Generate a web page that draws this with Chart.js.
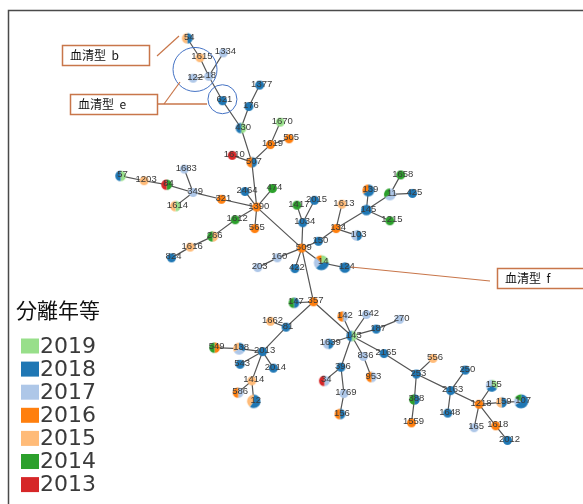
<!DOCTYPE html>
<html><head><meta charset="utf-8">
<script src="https://cdn.jsdelivr.net/npm/chart.js@4.4.1/dist/chart.umd.min.js"></script>
<style>html,body{margin:0;padding:0;background:#fff;}canvas{display:block;}</style>
</head><body>
<canvas id="c" width="583" height="504"></canvas>
<script>
// ---- legend / colour categories
const years = ['2019','2018','2017','2016','2015','2014','2013'];
const yearColors = ['#98df8a','#1f77b4','#aec7e8','#ff7f0e','#ffbb78','#2ca02c','#d62728'];
const legendTitle = '分離年等';

// ---- nodes (sequence types) and their layout coordinates
const nodeIds = ['54','1615','1334','18','122','621','1377','176','430','1670','1619','505','1610','507','1390',
 '321','349','1683','1614','84','1203','57','2464','474','565','1612','266','1616','824','509',
 '1034','1417','2015','150','134','1613','103','145','139','1215','11','1658','425','160','203',
 '422','14','124','357','147','81','1662','2013','138','549','543','2014','1414','586','12',
 '143','142','1642','187','270','1639','396','34','1769','156','836','953','2165','253','556',
 '388','1559','2163','250','1648','1218','155','159','107','165','1618','2012'];
const nodeX = [185,198,222,207,191,221,259,248,240,280,270,289,231,251,256,
 220,191,182,173,164,141,117,244,272,254,234,211,188,169,302,
 303,297,315,319,337,343,358,368,370,392,392,403,415,277,257,
 295,322,346,314,294,286,270,262,238,213,239,273,251,237,253,
 353,344,368,378,402,329,342,325,345,341,365,373,386,419,436,
 417,414,454,469,451,483,496,506,526,478,500,512];
const nodeY = [33,53,48,72,74,97,81,103,125,119,142,136,153,160,206,
 198,191,167,205,183,179,174,190,187,228,219,236,247,258,248,
 222,204,199,241,228,203,235,209,189,220,193,173,192,258,268,
 269,263,268,303,304,329,323,354,351,350,367,371,384,396,405,
 338,318,316,331,321,346,370,384,397,418,359,380,356,377,361,
 403,427,394,373,417,408,389,406,405,432,430,445];

// ---- isolates per year (one entry per isolate, node id)
const iso2019 = ['430','1670','1614','57','14','14','143','155'];
const iso2018 = ['54','621','1377','176','430','507','57','2464','824','1034','2015','150','103','145','145',
 '139','139','425','422','14','14','14','124','124','147','81','2013','138','543','2014','12','12','12',
 '143','187','1639','396','156','2165','253','388','2163','250','1648','155','159','107','107','107','107','2012'];
const iso2017 = ['1334','18','122','349','1683','103','11','11','160','203','14','14','138','586','142','1642',
 '270','1639','34','1769','836','953','155','107','165'];
const iso2016 = ['1619','505','507','1390','321','565','509','134','139','14','357','549','586','142','156',
 '953','1559','1218','1618'];
const iso2015 = ['54','1615','1614','1203','266','1616','1613','1662','138','1414','12','12','556','159'];
const iso2014 = ['84','474','1612','266','1417','1215','11','1658','147','549','388','107'];
const iso2013 = ['1610','84','34'];

// ---- minimum spanning tree edges
const edgeFrom = ['54','1615','18','18','18','621','430','176','430','507','507','1619','1619','507',
 '1390','321','349','349','349','84','1203','1390','1390','1390','1390','1612','266','1616','1390',
 '509','1034','1034','509','150','134','134','134','145','145','145','11','11',
 '509','160','509','509','14','509','357','357','81','81','2013','138','2013','2013','2013','1414','1414',
 '357','143','143','143','187','143','143','396','396','1769','143','836','143','2165','253','253','388',
 '253','2163','2163','2163','1218','1218','159','1218','1218','1618'];
const edgeTo = ['1615','18','122','1334','621','430','176','1377','507','1610','1619','505','1670','1390',
 '321','349','1683','1614','84','1203','57','2464','474','565','1612','266','1616','824','509',
 '1034','1417','2015','150','134','1613','103','145','139','1215','11','1658','425',
 '160','203','422','14','124','357','147','81','1662','2013','138','549','543','2014','1414','586','12',
 '143','142','1642','187','270','1639','396','34','1769','156','836','953','2165','253','556','388','1559',
 '2163','250','1648','1218','155','159','107','165','1618','2012'];

// ---- build per-node composition
const isoLists = [iso2019, iso2018, iso2017, iso2016, iso2015, iso2014, iso2013];
const counts = nodeIds.map(id => isoLists.map(l => l.filter(v => v === id).length));

function pieImage(cnt) {
  const total = cnt.reduce((a, b) => a + b, 0);
  const r = 4.5 * Math.pow(total, 0.25);
  const size = Math.ceil(r * 2 + 2);
  const cv = document.createElement('canvas');
  cv.width = size; cv.height = size;
  const g = cv.getContext('2d');
  let a = -Math.PI / 2;
  cnt.forEach((c, i) => {
    if (!c) return;
    const da = c / total * Math.PI * 2;
    g.beginPath(); g.moveTo(size / 2, size / 2);
    g.arc(size / 2, size / 2, r, a, a + da); g.closePath();
    g.fillStyle = yearColors[i]; g.fill();
    a += da;
  });
  return cv;
}
const nodeImgs = counts.map(pieImage);

const idx = id => nodeIds.indexOf(id);
const nodeData = nodeIds.map((id, i) => ({x: nodeX[i], y: nodeY[i]}));
const edgeData = [];
edgeFrom.forEach((f, k) => {
  const a = idx(f), b = idx(edgeTo[k]);
  edgeData.push({x: nodeX[a], y: nodeY[a]}, {x: nodeX[b], y: nodeY[b]}, {x: null, y: null});
});

const decor = {
  id: 'decor',
  afterDatasetsDraw(chart) {
    const ctx = chart.ctx;
    const meta = chart.getDatasetMeta(0);
    ctx.save();
    ctx.font = "9.5px 'Liberation Sans', Arial, sans-serif";
    ctx.fillStyle = '#3a3a3a';
    ctx.textAlign = 'center'; ctx.textBaseline = 'middle';
    meta.data.forEach((el, i) => ctx.fillText(nodeIds[i], el.x + 2, el.y - 1));
    ctx.restore();
  },
  afterDraw(chart) {
    const ctx = chart.ctx;
    const xs = chart.scales.x, ys = chart.scales.y;
    const P = (x, y) => [xs.getPixelForValue(x), ys.getPixelForValue(y)];
    ctx.save();
    // frame
    ctx.strokeStyle = '#4a4a4a'; ctx.lineWidth = 1.5;
    ctx.beginPath(); ctx.moveTo(8.5, 504); ctx.lineTo(8.5, 10.5); ctx.lineTo(583, 10.5); ctx.stroke();
    // circles around serotype groups
    ctx.strokeStyle = '#4472c4'; ctx.lineWidth = 1;
    let c = P(193, 65);
    ctx.beginPath(); ctx.arc(c[0], c[1], 22, 0, Math.PI * 2); ctx.stroke();
    c = P(221, 95.5);
    ctx.beginPath(); ctx.arc(c[0], c[1], 14.5, 0, Math.PI * 2); ctx.stroke();
    // callout lines
    ctx.strokeStyle = '#c8764a'; ctx.lineWidth = 1.2;
    ctx.beginPath(); ctx.moveTo(157, 56); ctx.lineTo(179, 36); ctx.stroke();
    ctx.lineWidth = 1.6;
    ctx.beginPath(); ctx.moveTo(158, 104); ctx.lineTo(207, 104); ctx.stroke();
    ctx.lineWidth = 1.2;
    ctx.beginPath(); ctx.moveTo(164, 104); ctx.lineTo(180, 82); ctx.stroke();
    ctx.beginPath(); ctx.moveTo(351, 267); ctx.lineTo(490, 281); ctx.stroke();
    // boxes
    const boxes = [[62, 45, 87, 20, '血清型  b'], [70, 94, 87, 20, '血清型  e'], [497, 268, 90, 20, '血清型  f']];
    ctx.font = "12px 'Noto Sans CJK JP', sans-serif";
    ctx.textAlign = 'left'; ctx.textBaseline = 'middle';
    boxes.forEach(b => {
      ctx.fillStyle = '#fff'; ctx.fillRect(b[0], b[1], b[2], b[3]);
      ctx.strokeStyle = '#c8764a'; ctx.lineWidth = 1.5;
      ctx.strokeRect(b[0] + 0.5, b[1] + 0.5, b[2], b[3]);
      ctx.fillStyle = '#111'; ctx.fillText(b[4], b[0] + 8, b[1] + 10.5);
    });
    // legend
    ctx.fillStyle = '#111';
    ctx.font = "21px 'Noto Sans CJK JP', sans-serif";
    ctx.textBaseline = 'middle';
    ctx.fillText(legendTitle, 16, 310);
    ctx.font = "22px 'DejaVu Sans', sans-serif";
    years.forEach((y, i) => {
      const cy = 346 + i * 23.1;
      ctx.fillStyle = yearColors[i];
      ctx.fillRect(21, cy - 7.5, 18, 15);
      ctx.fillStyle = '#3a3a3a';
      ctx.fillText(y, 40, cy + 1);
    });
    ctx.restore();
  }
};

new Chart(document.getElementById('c'), {
  type: 'scatter',
  data: {
    datasets: [
      {label: 'nodes', data: nodeData, order: 0,
       pointStyle: ctx => nodeImgs[ctx.dataIndex], pointRadius: 5, clip: false},
      {label: 'edges', data: edgeData, order: 1, showLine: true, spanGaps: false,
       pointRadius: 0, borderColor: '#555', borderWidth: 1.2, clip: false}
    ]
  },
  options: {
    responsive: false, animation: false, devicePixelRatio: 1, events: [],
    layout: {padding: 0},
    plugins: {legend: {display: false}, tooltip: {enabled: false}},
    scales: {
      x: {type: 'linear', min: 0, max: 583, display: false},
      y: {type: 'linear', min: 0, max: 504, reverse: true, display: false}
    }
  },
  plugins: [decor]
});
</script>
</body></html>
